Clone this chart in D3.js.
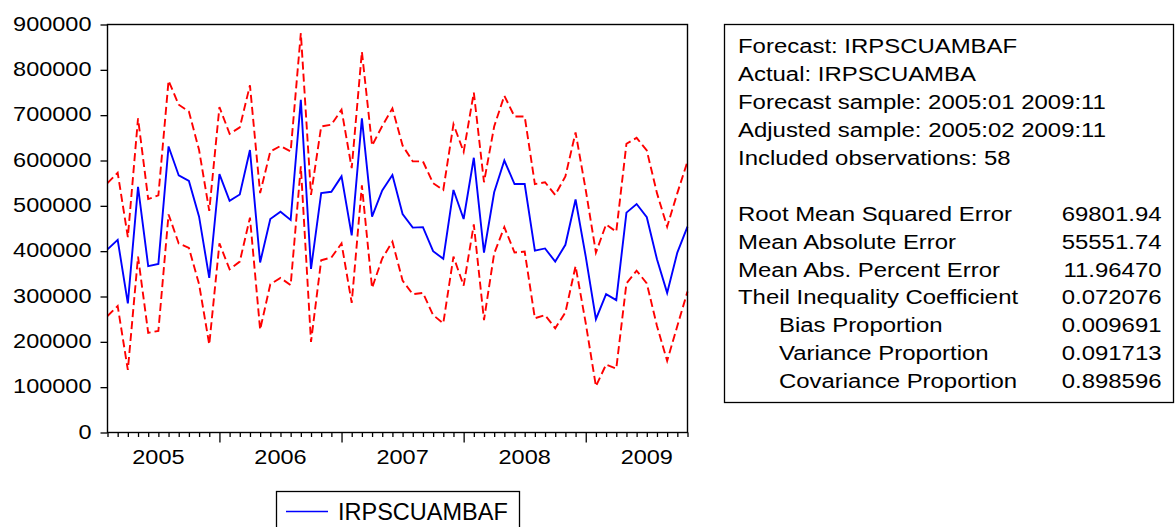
<!DOCTYPE html>
<html>
<head>
<meta charset="utf-8">
<script src="https://cdn.jsdelivr.net/npm/d3@7"></script>
<style>
  body { margin: 0; background: #fff; }
  svg text { font-family: "Liberation Sans", Arial, Helvetica, sans-serif; fill: #000; }
</style>
</head>
<body>
<script>
// monthly forecast, 2005:02 .. 2009:11
var startYear = 2005, startMonth = 2;

var forecast = [404000, 425000, 285000, 542000, 367000, 372000, 631000, 567000, 555000, 476000,
                341000, 570000, 511000, 525000, 623000, 375000, 471000, 487000, 469000, 734000,
                361000, 528000, 531000, 565000, 435000, 693000, 476000, 534000, 568000, 482000,
                452000, 453000, 400000, 383000, 535000, 471000, 606000, 397000, 530000, 600000,
                548000, 548000, 401000, 406000, 377000, 414000, 514000, 388000, 250000, 305000,
                292000, 485000, 504000, 475000, 382000, 308000, 397000, 454000];

var upperBand = [550000, 573000, 431000, 693000, 515000, 523000, 776000, 723000, 708000, 623000,
                 489000, 718000, 659000, 673000, 766000, 528000, 620000, 632000, 620000, 881000,
                 524000, 675000, 679000, 712000, 583000, 840000, 633000, 676000, 715000, 633000,
                 598000, 598000, 550000, 535000, 680000, 619000, 750000, 552000, 675000, 743000,
                 697000, 697000, 548000, 552000, 524000, 565000, 662000, 535000, 397000, 459000,
                 443000, 637000, 650000, 622000, 528000, 454000, 528000, 598000];

var lowerBand = [257000, 279000, 138000, 388000, 220000, 224000, 481000, 417000, 407000, 327000,
                 194000, 417000, 360000, 377000, 474000, 227000, 327000, 341000, 325000, 587000,
                 200000, 380000, 386000, 417000, 286000, 545000, 319000, 384000, 421000, 335000,
                 305000, 308000, 259000, 241000, 388000, 324000, 459000, 248000, 395000, 453000,
                 397000, 399000, 252000, 259000, 230000, 265000, 367000, 241000, 102000, 150000,
                 141000, 329000, 357000, 329000, 235000, 158000, 235000, 311000];

var yTicks = [0, 100000, 200000, 300000, 400000, 500000, 600000, 700000, 800000, 900000];
var yearLabels = ["2005", "2006", "2007", "2008", "2009"];
var legendLabel = "IRPSCUAMBAF";

var statsHeader = ["Forecast: IRPSCUAMBAF",
                   "Actual: IRPSCUAMBA",
                   "Forecast sample: 2005:01 2009:11",
                   "Adjusted sample: 2005:02 2009:11",
                   "Included observations: 58"];
var statNames = ["Root Mean Squared Error", "Mean Absolute Error", "Mean Abs. Percent Error",
                 "Theil Inequality Coefficient", "Bias Proportion", "Variance Proportion",
                 "Covariance Proportion"];
var statValues = ["69801.94", "55551.74", "11.96470", "0.072076", "0.009691", "0.091713", "0.898596"];
var statIndent = [false, false, false, false, true, true, true];

var W = 1175, H = 527;
var plot = {left: 107.5, right: 687.5, top: 24.5, bottom: 432.5};
var fontStack = '"Liberation Sans", Arial, Helvetica, sans-serif';

var svg = d3.select("body").append("svg")
            .attr("width", W)
            .attr("height", H);
svg.append("rect").attr("width", W).attr("height", H).attr("fill", "#fff");

var x = d3.scaleLinear().domain([0, forecast.length - 1]).range([plot.left, plot.right]);
var y = d3.scaleLinear().domain([0, 900000]).range([plot.bottom, plot.top]);

// month number of each observation
var monthOf = function(i) { return ((startMonth - 1 + i) % 12) + 1; };

var line = d3.line()
             .x(function(d, i) { return x(i); })
             .y(function(d) { return y(d); });

[upperBand, lowerBand].forEach(function(band) {
  svg.append("path")
     .datum(band)
     .attr("d", line)
     .attr("fill", "none")
     .attr("stroke", "#ff0000")
     .attr("stroke-width", 1.9)
     .attr("stroke-dasharray", "8,4");
});

svg.append("path")
   .datum(forecast)
   .attr("d", line)
   .attr("fill", "none")
   .attr("stroke", "#0000ff")
   .attr("stroke-width", 1.9);

// frame
svg.append("rect")
   .attr("x", plot.left)
   .attr("y", plot.top)
   .attr("width", plot.right - plot.left)
   .attr("height", plot.bottom - plot.top)
   .attr("fill", "none")
   .attr("stroke", "#000")
   .attr("stroke-width", 1.4);

// y axis
var axisSx = 1.12;
var yAxis = svg.append("g")
               .attr("transform", "translate(" + plot.left + ",0)")
               .call(d3.axisLeft(y).tickValues(yTicks).tickSize(7).tickSizeOuter(0).tickFormat(d3.format("d")));
yAxis.select(".domain").remove();
yAxis.attr("font-size", 21).attr("font-family", fontStack);
yAxis.selectAll(".tick line").attr("stroke", "#000").attr("stroke-width", 1.3);
yAxis.selectAll(".tick text")
     .attr("x", -16 / axisSx)
     .attr("dy", "0.27em")
     .attr("transform", "scale(" + axisSx + ",1)");

// x axis: one tick a month, long tick at January
var xAxis = svg.append("g")
               .attr("transform", "translate(0," + plot.bottom + ")")
               .call(d3.axisBottom(x).tickValues(d3.range(forecast.length)).tickSizeOuter(0).tickFormat(""));
xAxis.select(".domain").remove();
xAxis.selectAll(".tick line")
     .attr("stroke", "#000")
     .attr("stroke-width", 1.3)
     .attr("y2", function(d) { return monthOf(d) == 1 ? 10 : 4.5; });

svg.selectAll("text.year")
   .data(yearLabels)
   .enter().append("text")
   .attr("class", "year")
   .attr("text-anchor", "middle")
   .attr("font-size", 21)
   .attr("transform", function(d) {
     var janIdx = (+d - startYear) * 12 - (startMonth - 1);
     return "translate(" + x(janIdx + 6) + "," + (plot.bottom + 31.5) + ") scale(" + axisSx + ",1)";
   })
   .text(function(d) { return d; });

// legend
var legend = svg.append("g");
legend.append("rect")
      .attr("x", 276.5).attr("y", 491.5)
      .attr("width", 243).attr("height", 50)
      .attr("fill", "#fff")
      .attr("stroke", "#000")
      .attr("stroke-width", 1.3);
legend.append("line")
      .attr("x1", 286).attr("x2", 328)
      .attr("y1", 511.5).attr("y2", 511.5)
      .attr("stroke", "#0000ff")
      .attr("stroke-width", 1.3);
legend.append("text")
      .attr("x", 338).attr("y", 520)
      .attr("font-size", 23.5)
      .text(legendLabel);

// statistics box
var statSx = 1.14, rowH = 27.9, firstRow = 53.3;
var box = svg.append("g");
box.append("rect")
   .attr("x", 724.5).attr("y", 24.5)
   .attr("width", 449).attr("height", 378)
   .attr("fill", "#fff")
   .attr("stroke", "#000")
   .attr("stroke-width", 1.3);

box.selectAll("text.head")
   .data(statsHeader)
   .enter().append("text")
   .attr("class", "head")
   .attr("font-size", 21)
   .attr("transform", function(d, i) { return "translate(738," + (firstRow + i * rowH) + ") scale(" + statSx + ",1)"; })
   .text(function(d) { return d; });

box.selectAll("text.name")
   .data(statNames)
   .enter().append("text")
   .attr("class", "name")
   .attr("font-size", 21)
   .attr("transform", function(d, i) {
     return "translate(" + (statIndent[i] ? 779 : 738) + "," + (firstRow + (i + 6) * rowH) + ") scale(" + statSx + ",1)";
   })
   .text(function(d) { return d; });

box.selectAll("text.value")
   .data(statValues)
   .enter().append("text")
   .attr("class", "value")
   .attr("font-size", 21)
   .attr("text-anchor", "end")
   .attr("transform", function(d, i) { return "translate(1161.5," + (firstRow + (i + 6) * rowH) + ") scale(" + statSx + ",1)"; })
   .text(function(d) { return d; });
</script>
</body>
</html>
